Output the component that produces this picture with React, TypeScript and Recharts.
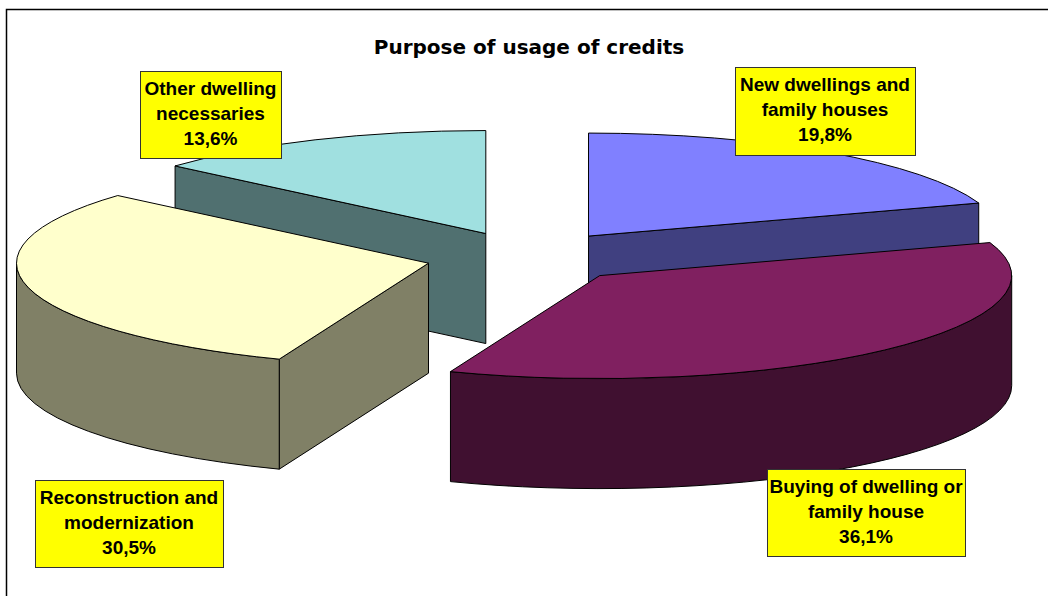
import React from 'react';
import { Pie, PieChart } from 'recharts';

// listed from the back of the pie round to the front, so later slices paint over earlier ones
const categories = [
    ['Other dwelling', 'necessaries'],
    ['New dwellings and', 'family houses'],
    ['Buying of dwelling or', 'family house'],
    ['Reconstruction and', 'modernization'],
];
const shares = [13.6, 19.8, 36.1, 30.5];
const topColors = ['#a0e0e0', '#8080ff', '#802060', '#ffffcc'];
const wallColors = ['#507070', '#404080', '#401030', '#808066'];

const chartData = categories.map((lines, i) => ({ name: lines.join(' '), value: shares[i] }));

// x, y, width, height of each yellow callout
const labelBoxes = [
    [140, 71, 141, 87],
    [735, 67, 180, 88],
    [767, 469, 198, 87],
    [35, 480, 188, 87],
];

const SQUASH = 0.25; // ellipse height / width of the tilted disc
const DEPTH = 110;
const EXPLODE = 0.25;
// first slice starts this far left of 12 o'clock, so "New dwellings" begins straight up
const START_ANGLE = 90 + shares[0] * 3.6;

const rad = (deg: number) => (deg * Math.PI) / 180;

const Slice3D = (props: any) => {
    const { cx, cy, outerRadius, startAngle, endAngle, index } = props;
    const a = outerRadius;
    const b = outerRadius * SQUASH;
    // clockwise angles from 12 o'clock
    const from = 90 - startAngle + 360;
    const to = 90 - endAngle + 360;
    const mid = (from + to) / 2;
    const ox = cx + EXPLODE * a * Math.sin(rad(mid));
    const oy = cy - EXPLODE * b * Math.cos(rad(mid));
    const pt = (deg: number, drop = 0) => {
        const x = ox + a * Math.sin(rad(deg));
        const y = oy - b * Math.cos(rad(deg)) + drop;
        return `${x.toFixed(2)} ${y.toFixed(2)}`;
    };
    const apex = (drop = 0) => `${ox.toFixed(2)} ${(oy + drop).toFixed(2)}`;
    const large = to - from > 180 ? 1 : 0;

    const walls: string[] = [];
    // the cut faces show only when they turn towards the viewer
    if (Math.sin(rad(from)) < -0.001) {
        walls.push(`M${apex()}L${pt(from)}L${pt(from, DEPTH)}L${apex(DEPTH)}Z`);
    }
    if (Math.sin(rad(to)) > 0.001) {
        walls.push(`M${apex()}L${pt(to)}L${pt(to, DEPTH)}L${apex(DEPTH)}Z`);
    }
    // rim, only the part on the near half of the ellipse
    const seen = [[90, 270], [450, 630]]
        .map(([lo, hi]) => [Math.max(from, lo), Math.min(to, hi)])
        .filter(([lo, hi]) => hi > lo);
    seen.forEach(([lo, hi]) => {
        walls.push(
            `M${pt(lo)}A${a} ${b} 0 0 1 ${pt(hi)}L${pt(hi, DEPTH)}A${a} ${b} 0 0 0 ${pt(lo, DEPTH)}Z`
        );
    });

    return (
        <g>
            {walls.map((d, i) => (
                <path key={i} d={d} fill={wallColors[index]} stroke="#000" strokeWidth={1} strokeLinejoin="round" />
            ))}
            <path
                d={`M${apex()}L${pt(from)}A${a} ${b} 0 ${large} 1 ${pt(to)}Z`}
                fill={topColors[index]}
                stroke="#000"
                strokeWidth={1}
                strokeLinejoin="round"
            />
        </g>
    );
};

const Callout = (props: any) => {
    const { index } = props;
    const [x, y, w, h] = labelBoxes[index];
    const lines = [...categories[index], `${shares[index].toFixed(1).replace('.', ',')}%`];
    return (
        <g>
            <rect x={x + 0.5} y={y + 0.5} width={w} height={h} fill="#ffff00" stroke="#333" strokeWidth={1} />
            {lines.map((line, i) => (
                <text
                    key={i}
                    x={x + w / 2}
                    y={y + 24 + i * 25}
                    textAnchor="middle"
                    fontFamily="Liberation Sans"
                    fontWeight="bold"
                    fontSize={19}
                    fill="#000"
                >
                    {line}
                </text>
            ))}
        </g>
    );
};

const App: React.FC = () => {
    return (
        <div style={{ position: 'absolute', left: 0, top: 0 }}>
            <PieChart width={1048} height={596} margin={{ top: 0, right: 0, left: 0, bottom: 0 }}>
                <path d="M6.5 596V9.5H1048" fill="none" stroke="#000" strokeWidth={1.5} />
                <text
                    x={529}
                    y={54}
                    textAnchor="middle"
                    fontFamily="DejaVu Sans"
                    fontWeight="bold"
                    fontSize={20}
                    fill="#000"
                >
                    Purpose of usage of credits
                </text>
                <Pie
                    data={chartData}
                    dataKey="value"
                    nameKey="name"
                    cx={528.5}
                    cy={257}
                    innerRadius={0}
                    outerRadius={412}
                    startAngle={START_ANGLE}
                    endAngle={START_ANGLE - 360}
                    shape={Slice3D}
                    inactiveShape={Slice3D}
                    label={Callout}
                    labelLine={false}
                    isAnimationActive={false}
                    rootTabIndex={-1}
                />
            </PieChart>
        </div>
    );
};

export default App;
